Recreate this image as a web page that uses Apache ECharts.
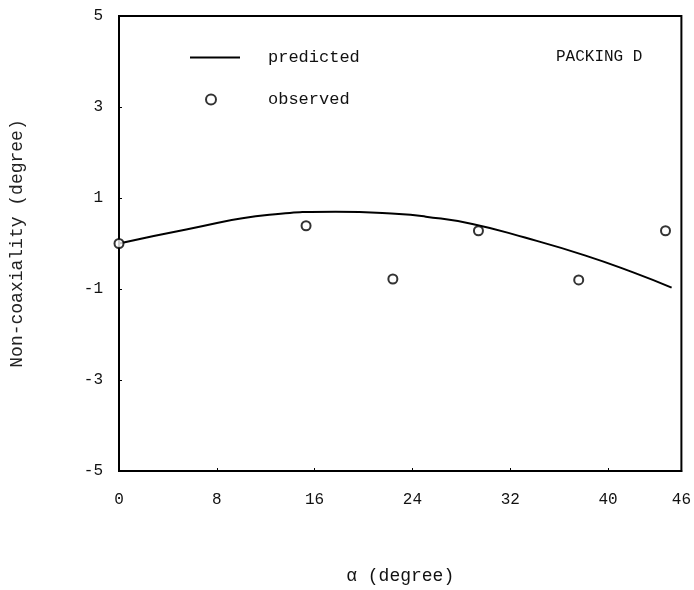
<!DOCTYPE html>
<html>
<head>
<meta charset="utf-8">
<script src="https://cdn.jsdelivr.net/npm/echarts@6/dist/echarts.min.js"></script>
<style>
  html, body { margin: 0; padding: 0; background: #fff; }
  #chart-container { width: 694px; height: 590px; }
</style>
</head>
<body>
<div id="chart-container"></div>
<script>
// predicted curve (alpha, non-coaxiality)
const predictedX = [0, 5.5, 12.3, 17.7, 22.9, 25.1, 28.9, 33.2, 38.1, 42, 45.2];
const predictedY = [0, 0.31, 0.63, 0.70, 0.65, 0.59, 0.43, 0.13, -0.26, -0.63, -0.97];

// observed points
const observedX = [0, 15.3, 22.4, 29.4, 37.6, 44.7];
const observedY = [0, 0.39, -0.78, 0.28, -0.80, 0.28];

const font = '"Liberation Mono", "DejaVu Sans Mono", monospace';

const dom = document.getElementById('chart-container');
const myChart = echarts.init(dom, null, { renderer: 'canvas' });

const zip = (xs, ys) => xs.map((x, i) => [x, ys[i]]);

const legendText = (pad) => ({
  fontFamily: font,
  fontSize: 17,
  color: '#111',
  padding: [0, 0, 0, pad],
});

const option = {
  animation: false,
  backgroundColor: '#fff',
  grid: {
    left: 116,
    right: 11,
    top: 16,
    bottom: 114,
    show: true,
    borderColor: '#000',
    borderWidth: 2,
  },
  legend: [
    {
      left: 185,
      top: 44,
      icon: 'rect',
      itemWidth: 50,
      itemHeight: 2,
      textStyle: legendText(23),
      data: ['predicted'],
    },
    {
      left: 200,
      top: 86,
      itemWidth: 50,
      itemHeight: 10,
      textStyle: legendText(27),
      data: ['observed'],
    },
  ],
  graphic: [
    {
      type: 'text',
      left: 556,
      top: 49,
      style: { text: 'PACKING D', font: '16px ' + font, fill: '#111' },
    },
  ],
  xAxis: {
    type: 'value',
    min: 0,
    max: 46,
    interval: 8,
    name: 'α (degree)',
    nameLocation: 'middle',
    nameGap: 96,
    nameTextStyle: { fontFamily: font, fontSize: 18, color: '#111' },
    axisLine: { onZero: false, lineStyle: { color: '#000', width: 2 } },
    axisTick: { inside: true, length: 3, lineStyle: { color: '#000' } },
    axisLabel: { fontFamily: font, fontSize: 16, color: '#111', margin: 21 },
    splitLine: { show: false },
  },
  yAxis: {
    type: 'value',
    min: -5,
    max: 5,
    interval: 2,
    name: 'Non-coaxiality (degree)',
    nameLocation: 'middle',
    nameGap: 93,
    nameTextStyle: { fontFamily: font, fontSize: 18, color: '#222' },
    axisLine: { show: true, onZero: false, lineStyle: { color: '#000', width: 2 } },
    axisTick: { show: true, inside: true, length: 3, lineStyle: { color: '#000' } },
    axisLabel: { fontFamily: font, fontSize: 16, color: '#111', margin: 16 },
    splitLine: { show: false },
  },
  series: [
    {
      name: 'predicted',
      type: 'line',
      smooth: true,
      symbol: 'none',
      lineStyle: { color: '#000', width: 2 },
      itemStyle: { color: '#000' },
      data: zip(predictedX, predictedY),
    },
    {
      name: 'observed',
      type: 'scatter',
      symbol: 'emptyCircle',
      symbolSize: 9,
      itemStyle: { color: '#000', borderColor: '#000', borderWidth: 2.2 },
      data: zip(observedX, observedY),
      z: 3,
    },
  ],
};

myChart.setOption(option);
window.addEventListener('resize', myChart.resize);
</script>
</body>
</html>
